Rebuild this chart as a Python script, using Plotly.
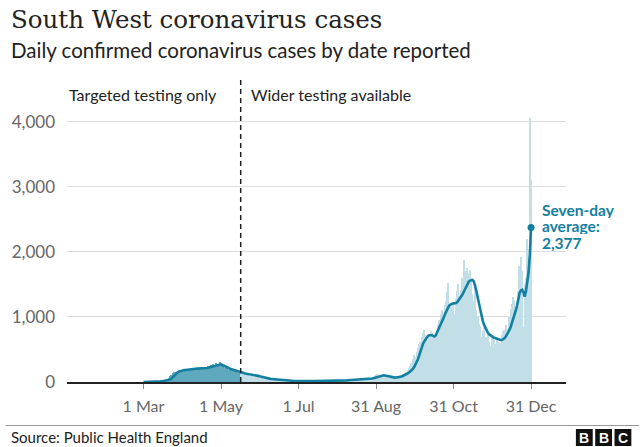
import pandas as pd
import plotly.graph_objects as go

# ---------------- data ----------------
start_date = "2020-03-01"
end_date = "2020-12-31"
wider_testing_from = "2020-05-17"

bar_mar = [0, 1, 1, 2, 2, 3, 3, 4, 5, 6, 7, 9, 11, 13, 16, 19, 22, 27, 35, 48,
           62, 85, 110, 135, 150, 160, 158, 172, 182, 178, 190]
bar_apr = [184, 192, 178, 196, 205, 188, 200, 212, 198, 215, 203, 196, 220, 208, 212,
           201, 225, 214, 230, 222, 248, 236, 260, 252, 274, 262, 300, 284, 268, 310]
bar_may = [252, 240, 226, 218, 204, 212, 190, 196, 182, 178, 168, 172, 160, 150, 142,
           136, 130, 120, 126, 112, 108, 104, 100, 96, 92, 88, 84, 80, 78, 72, 66]
bar_jun = [60, 58, 52, 50, 46, 44, 42, 40, 36, 34, 30, 28, 26, 25, 24, 22, 21, 20, 19, 18,
           17, 18, 16, 15, 14, 16, 15, 13, 14, 15]
bar_jul = [14, 13, 15, 12, 13, 14, 12, 13, 14, 12, 13, 15, 14, 13, 15, 14, 16, 15, 14, 17,
           16, 15, 18, 17, 16, 19, 18, 17, 20, 19, 21]
bar_aug = [20, 21, 23, 22, 24, 25, 26, 27, 26, 29, 30, 29, 31, 32, 33, 34, 35, 36, 38, 39,
           41, 40, 45, 47, 50, 55, 60, 68, 80, 95, 102]
bar_sep = [120, 110, 105, 98, 92, 88, 82, 76, 70, 68, 66, 64, 68, 70, 74, 72, 80, 86, 94, 104,
           116, 128, 140, 160, 180, 210, 250, 300, 360, 420]
bar_oct = [380, 460, 520, 580, 610, 690, 760, 800, 720, 650, 640, 700, 780, 760, 720, 680,
           720, 700, 880, 960, 1040, 1100, 1000, 1180, 1250, 1380, 1520, 1200, 1150, 1100, 1180]
bar_nov = [1050, 1280, 1400, 1500, 1320, 1420, 1600, 1880, 1500, 1700, 1760, 1680, 1720,
           1600, 1350, 1250, 1450, 1100, 1000, 900, 860, 700, 780, 850, 650, 700, 760, 620,
           560, 680]
bar_dec = [720, 650, 590, 700, 620, 540, 600, 720, 780, 800, 870, 760, 820, 1000, 1120, 1200,
           1310, 1250, 1150, 1100, 1400, 1780, 1930, 1700, 850, 1500, 1600, 2200, 1900, 4060,
           3100]

avg_mar = [0, 0, 1, 1, 1, 2, 2, 3, 3, 4, 5, 6, 7, 8, 10, 12, 15, 18, 21, 25,
           30, 40, 55, 75, 100, 125, 140, 150, 160, 168, 175]
avg_apr = [180, 183, 185, 186, 188, 190, 193, 196, 199, 202, 204, 205, 205, 206, 207,
           208, 209, 210, 212, 215, 220, 225, 230, 236, 242, 250, 258, 266, 272, 276]
avg_may = [272, 262, 250, 240, 230, 222, 215, 205, 198, 192, 185, 180, 176, 172, 167,
           160, 152, 145, 138, 132, 128, 123, 118, 114, 110, 106, 102, 99, 96, 93, 90]
avg_jun = [86, 80, 74, 68, 63, 59, 55, 51, 48, 46, 44, 41, 38, 35, 32, 30, 28, 26, 25, 24,
           23, 22, 21, 20, 19, 18, 17, 16, 16, 15]
avg_jul = [15, 15, 14, 14, 14, 14, 13, 13, 13, 13, 13, 13, 13, 14, 14, 14, 14, 15, 15, 15,
           15, 16, 16, 17, 17, 17, 18, 18, 18, 19, 19]
avg_aug = [20, 20, 21, 22, 22, 23, 24, 25, 26, 27, 28, 29, 30, 30, 31, 32, 33, 34, 35, 36,
           37, 38, 40, 42, 44, 46, 49, 53, 58, 64, 70]
avg_sep = [78, 87, 96, 103, 106, 104, 100, 95, 90, 84, 78, 73, 70, 68, 68, 69, 71, 74, 78, 84,
           92, 100, 110, 120, 132, 145, 160, 178, 200, 230]
avg_oct = [265, 305, 350, 410, 480, 540, 590, 625, 655, 690, 710, 720, 722, 720, 710, 700,
           720, 760, 800, 840, 885, 930, 980, 1030, 1080, 1120, 1155, 1185, 1200, 1205, 1210]
avg_nov = [1212, 1215, 1230, 1255, 1280, 1310, 1345, 1385, 1430, 1480, 1520, 1545, 1560,
           1568, 1570, 1545, 1480, 1400, 1300, 1200, 1100, 1010, 940, 880, 830, 790, 760,
           735, 715, 700]
avg_dec = [690, 680, 672, 665, 658, 650, 645, 645, 655, 672, 695, 725, 760, 800, 850, 905,
           965, 1030, 1100, 1180, 1280, 1370, 1410, 1420, 1380, 1313, 1400, 1550, 1680, 1950,
           2377]

x_tick_dates = ["2020-03-01", "2020-05-01", "2020-07-01", "2020-08-31", "2020-10-31", "2020-12-31"]
x_tick_labels = ["1 Mar", "1 May", "1 Jul", "31 Aug", "31 Oct", "31 Dec"]
y_tick_values = [0, 1000, 2000, 3000, 4000]

# ---------------- build ----------------
dates = pd.date_range(start_date, end_date, freq="D")
daily = bar_mar + bar_apr + bar_may + bar_jun + bar_jul + bar_aug + bar_sep + bar_oct + bar_nov + bar_dec
average = avg_mar + avg_apr + avg_may + avg_jun + avg_jul + avg_aug + avg_sep + avg_oct + avg_nov + avg_dec
assert len(daily) == len(dates) == len(average)

df = pd.DataFrame({"date": dates, "cases": daily, "avg": average})
cut = pd.Timestamp(wider_testing_from)
early = df[df["date"] < cut]
late = df[df["date"] >= cut]
divider_x = cut - pd.Timedelta(hours=12)

# pixel helpers for placing furniture
L, R, T, B = 62, 566, 82, 382
def px(x):
    return (x - L) / (R - L)
def py(y):
    return (B - y) / (B - T)

SANS = "Lato"
BLUE = "#1380A1"

fig = go.Figure()
fig.add_bar(x=early["date"], y=early["cases"], marker_color="#5fa8bd",
            marker_line_width=0, hoverinfo="skip")
fig.add_bar(x=late["date"], y=late["cases"], marker_color="#c2dfe8",
            marker_line_width=0, hoverinfo="skip")
fig.add_scatter(x=df["date"], y=df["avg"], mode="lines",
                line=dict(color=BLUE, width=2.6), hoverinfo="skip")
fig.add_scatter(x=[df["date"].iloc[-1]], y=[df["avg"].iloc[-1]], mode="markers",
                marker=dict(color=BLUE, size=7), hoverinfo="skip")

fig.update_layout(
    width=640, height=447,
    margin=dict(l=L, r=640 - R, t=T, b=447 - B),
    plot_bgcolor="white", paper_bgcolor="white",
    showlegend=False, bargap=0, barmode="overlay",
    font=dict(family=SANS, color="#222"),
)
fig.update_xaxes(
    type="date",
    range=["2019-12-31 19:00", "2021-01-27 12:00"],
    tickvals=x_tick_dates, ticktext=x_tick_labels,
    ticks="outside", ticklen=5, tickcolor="#888", tickwidth=1,
    ticklabelstandoff=4,
    showgrid=False, showline=True, linecolor="#222", linewidth=1.5,
    tickfont=dict(family=SANS, size=16, color="#666"),
)
fig.update_yaxes(
    range=[0, 4615], tickvals=y_tick_values, tickformat=",",
    showgrid=True, gridcolor="#dcdcdc", gridwidth=1, zeroline=False,
    ticks="", ticklabelstandoff=11,
    tickfont=dict(family=SANS, size=17, color="#666"),
)

# dashed divider
fig.add_shape(type="line", xref="x", yref="paper", x0=divider_x, x1=divider_x,
              y0=0, y1=py(78), line=dict(color="#222", width=1.5, dash="5px,4px"),
              layer="above")

ann = []
ann.append(dict(text="South West coronavirus cases", x=px(3), y=py(20), xref="paper", yref="paper",
                xanchor="left", yanchor="middle", showarrow=False,
                font=dict(family="DejaVu Serif", size=24.5, color="#222")))
ann.append(dict(text="Daily confirmed coronavirus cases by date reported", x=px(3), y=py(50),
                xref="paper", yref="paper", xanchor="left", yanchor="middle", showarrow=False,
                font=dict(family=SANS, size=20.5, color="#222")))
ann.append(dict(text="Targeted testing only", x=divider_x, y=py(94), xref="x", yref="paper",
                xanchor="right", yanchor="middle", xshift=-22, showarrow=False,
                font=dict(family=SANS, size=16, color="#222")))
ann.append(dict(text="Wider testing available", x=divider_x, y=py(94), xref="x", yref="paper",
                xanchor="left", yanchor="middle", xshift=8, showarrow=False,
                font=dict(family=SANS, size=16, color="#222")))
last_val = int(df["avg"].iloc[-1])
for i, line in enumerate(["Seven-day", "average:", f"{last_val:,}"]):
    ann.append(dict(text=f"<b>{line}</b>", x=df["date"].iloc[-1], y=last_val, xref="x", yref="y",
                    xanchor="left", yanchor="middle", xshift=9, yshift=(1 - i) * 16.5 + 1,
                    height=16, valign="middle",
                    showarrow=False, font=dict(family=SANS, size=15.5, color=BLUE)))
ann.append(dict(text="Source: Public Health England", x=px(3), y=py(437), xref="paper", yref="paper",
                xanchor="left", yanchor="middle", showarrow=False,
                font=dict(family=SANS, size=15, color="#222")))
# BBC blocks
for k, letter in enumerate(["B", "B", "C"]):
    x0 = 576 + k * 19.5
    fig.add_shape(type="rect", xref="paper", yref="paper", x0=px(x0), x1=px(x0 + 17),
                  y0=py(446), y1=py(429), fillcolor="#111", line_width=0)
    ann.append(dict(text=f"<b>{letter}</b>", x=px(x0 + 8.5), y=py(437.5), xref="paper", yref="paper",
                    xanchor="center", yanchor="middle", showarrow=False,
                    font=dict(family="Liberation Sans", size=14, color="white")))
# footer rule
fig.add_shape(type="line", xref="paper", yref="paper", x0=px(0), x1=px(640), y0=py(425.5), y1=py(425.5),
              line=dict(color="#999", width=1))
fig.update_layout(annotations=ann)

fig.write_html("out.html", config={"displayModeBar": False},
               post_script="document.body.style.margin='0';")
